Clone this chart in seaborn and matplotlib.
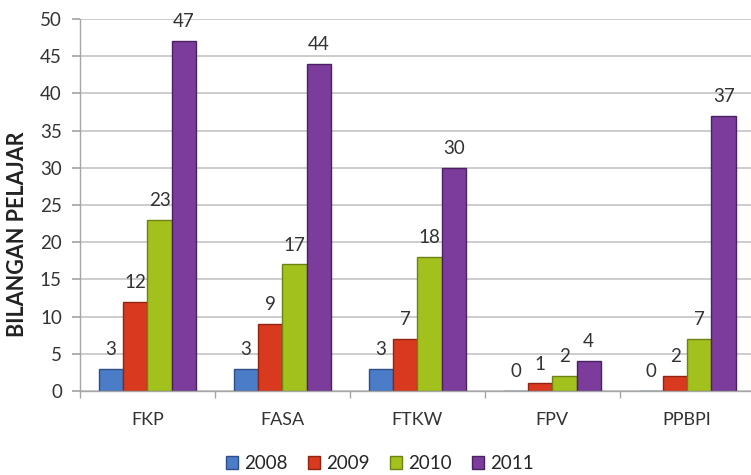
import matplotlib
matplotlib.use("Agg")
import matplotlib.pyplot as plt
import seaborn as sns
import pandas as pd
from matplotlib.ticker import MultipleLocator, FixedLocator
from matplotlib.patches import Patch

categories = ["FKP", "FASA", "FTKW", "FPV", "PPBPI"]
years = ["2008", "2009", "2010", "2011"]
v2008 = [3, 3, 3, 0, 0]
v2009 = [12, 9, 7, 1, 2]
v2010 = [23, 17, 18, 2, 7]
v2011 = [47, 44, 30, 4, 37]
ylabel = "BILANGAN PELAJAR"

colors = ["#4a7cc8", "#d93a1f", "#a3c11d", "#7b3c9c"]
edges = ["#2d4f86", "#8f2412", "#6c8212", "#4b2163"]

rows = []
for yr, vals in zip(years, [v2008, v2009, v2010, v2011]):
    for c, v in zip(categories, vals):
        rows.append({"cat": c, "year": yr, "val": v})
df = pd.DataFrame(rows)

sns.set_theme(style="white")
plt.rcParams["font.family"] = ["Lato", "DejaVu Sans"]

fig = plt.figure(figsize=(7.51, 4.75), dpi=100)
ax = fig.add_axes([0.1065, 0.177, 0.893, 0.783])

sns.barplot(data=df, x="cat", y="val", hue="year", palette=colors,
            width=0.72, ax=ax, legend=False, saturation=1)

for ci, cont in enumerate(ax.containers):
    for bar in cont:
        bar.set_edgecolor(edges[ci])
        bar.set_linewidth(1.0)
    vals = [v2008, v2009, v2010, v2011][ci]
    for bar, v in zip(cont, vals):
        ax.annotate(str(v), (bar.get_x() + bar.get_width() / 2, v),
                    xytext=(0, 14), textcoords="offset points",
                    ha="center", va="center", fontsize=13.5, color="#333333")

ax.set_ylim(0, 50)
ax.set_xlim(-0.5, 4.47)
ax.yaxis.set_major_locator(MultipleLocator(5))
ax.grid(axis="y", color="#c4c4c4", linewidth=1.2)
ax.set_axisbelow(True)
for s in ["top", "right"]:
    ax.spines[s].set_visible(False)
for s in ["left", "bottom"]:
    ax.spines[s].set_color("#a6a6a6")
    ax.spines[s].set_linewidth(1.0)

ax.tick_params(axis="y", labelsize=13.5, colors="#333333", length=6,
               direction="out", color="#a6a6a6", left=True, pad=7)
ax.tick_params(axis="x", which="major", labelsize=13, colors="#333333",
               length=0, pad=15)
ax.xaxis.set_minor_locator(FixedLocator([-0.5, 0.5, 1.5, 2.5, 3.5]))
ax.tick_params(axis="x", which="minor", length=5, direction="out",
               color="#a6a6a6", bottom=True)

ax.set_xlabel("")
ax.set_ylabel(ylabel, fontsize=15.5, fontweight="bold", color="#222222")
ax.yaxis.set_label_coords(-0.078, 0.42)

handles = [Patch(facecolor=c, edgecolor=e) for c, e in zip(colors, edges)]
fig.legend(handles, years, loc="center", bbox_to_anchor=(0.506, 0.024),
           ncol=4, frameon=False, fontsize=13.5, handlelength=0.65,
           handleheight=0.65, handletextpad=0.3, columnspacing=1.1)

fig.savefig("out.png", dpi=100)
